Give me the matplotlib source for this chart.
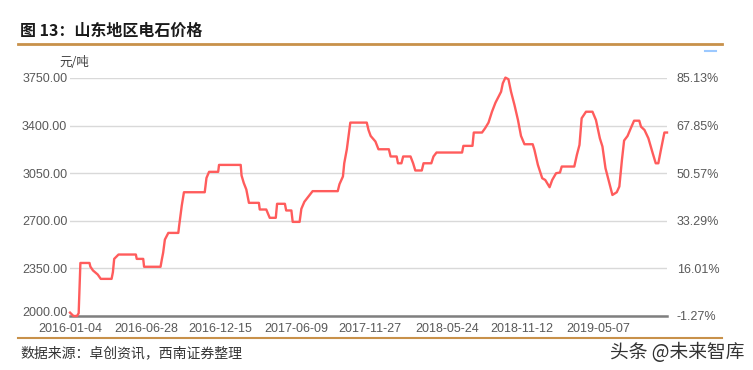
import matplotlib
matplotlib.use("Agg")
import matplotlib.pyplot as plt
import matplotlib.transforms as mtransforms
import pandas as pd

# price series (yuan/ton)
dates = [
    "2016-01-04", "2016-01-12", "2016-01-20", "2016-01-24", "2016-01-28", "2016-02-18",
    "2016-02-20", "2016-02-26", "2016-03-08", "2016-03-15", "2016-04-09", "2016-04-12",
    "2016-04-15", "2016-04-25", "2016-06-04", "2016-06-06", "2016-06-21", "2016-06-23",
    "2016-07-31", "2016-08-03", "2016-08-06", "2016-08-10", "2016-08-18", "2016-09-10",
    "2016-09-12", "2016-09-18", "2016-09-23", "2016-11-10", "2016-11-14", "2016-11-20",
    "2016-12-11", "2016-12-13", "2017-02-01", "2017-02-03", "2017-02-08", "2017-02-14",
    "2017-02-20", "2017-03-15", "2017-03-17", "2017-04-01", "2017-04-09", "2017-04-23",
    "2017-04-26", "2017-05-14", "2017-05-17", "2017-05-29", "2017-06-01", "2017-06-17",
    "2017-06-21", "2017-06-28", "2017-07-10", "2017-07-17", "2017-09-13", "2017-09-17",
    "2017-09-25", "2017-09-28", "2017-10-04", "2017-10-12", "2017-11-19", "2017-11-23",
    "2017-11-28", "2017-12-09", "2017-12-16", "2018-01-09", "2018-01-13", "2018-01-27",
    "2018-01-30", "2018-02-07", "2018-02-11", "2018-02-28", "2018-03-06", "2018-03-11",
    "2018-03-26", "2018-03-30", "2018-04-17", "2018-04-22", "2018-04-29", "2018-06-27",
    "2018-06-30", "2018-07-21", "2018-07-24", "2018-08-12", "2018-08-19", "2018-08-27",
    "2018-09-04", "2018-09-12", "2018-09-19", "2018-09-25", "2018-09-29", "2018-10-05",
    "2018-10-12", "2018-10-18", "2018-10-26", "2018-11-03", "2018-11-10", "2018-11-18",
    "2018-12-07", "2018-12-11", "2018-12-19", "2018-12-29", "2019-01-05", "2019-01-15",
    "2019-01-21", "2019-01-30", "2019-02-08", "2019-02-12", "2019-03-13", "2019-03-19",
    "2019-03-25", "2019-03-30", "2019-04-09", "2019-04-24", "2019-05-02", "2019-05-11",
    "2019-05-17", "2019-05-24", "2019-06-02", "2019-06-09", "2019-06-19", "2019-06-25",
    "2019-07-01", "2019-07-06", "2019-07-14", "2019-07-22", "2019-07-29", "2019-08-10",
    "2019-08-14", "2019-08-22", "2019-08-31", "2019-09-10", "2019-09-17", "2019-09-23",
    "2019-09-29", "2019-10-07", "2019-10-13",
]
prices = [
    2025, 2000, 2000, 2020, 2390, 2390,
    2363, 2335, 2305, 2273, 2273, 2322,
    2420, 2452, 2452, 2420, 2420, 2362,
    2362, 2416, 2465, 2562, 2611, 2611,
    2665, 2812, 2910, 2910, 3015, 3060,
    3060, 3111, 3111, 3033, 2979, 2930,
    2832, 2832, 2783, 2783, 2722, 2722,
    2825, 2825, 2776, 2776, 2692, 2692,
    2788, 2840, 2889, 2918, 2918, 2969,
    3026, 3123, 3226, 3422, 3422, 3368,
    3324, 3283, 3226, 3226, 3173, 3173,
    3123, 3123, 3173, 3173, 3123, 3070,
    3070, 3123, 3123, 3173, 3202, 3202,
    3251, 3251, 3349, 3349, 3380, 3422,
    3502, 3568, 3612, 3649, 3711, 3753,
    3741, 3649, 3551, 3441, 3324, 3263,
    3263, 3222, 3111, 3013, 3000, 2947,
    3000, 3050, 3055, 3099, 3099, 3185,
    3258, 3454, 3502, 3502, 3441, 3307,
    3246, 3087, 2977, 2890, 2910, 2952,
    3148, 3290, 3324, 3385, 3436, 3436,
    3392, 3368, 3307, 3197, 3123, 3123,
    3222, 3349, 3349,
]

left_ticks = [2000, 2350, 2700, 3050, 3400, 3750]
right_ticks = [-1.27, 16.01, 33.29, 50.57, 67.85, 85.13]
x_ticks = ["2016-01-04", "2016-06-28", "2016-12-15", "2017-06-09",
           "2017-11-27", "2018-05-24", "2018-11-12", "2019-05-07"]

title = "图 13：山东地区电石价格"
source = "数据来源：卓创资讯，西南证券整理"
watermark = "头条 @未来智库"

cjk = ["Noto Sans CJK SC", "DejaVu Sans"]
narrow = ["Liberation Sans Narrow", "Liberation Sans"]
gray = "#595959"
gold = "#C8914A"

x = pd.to_datetime(dates)

fig = plt.figure(figsize=(7.53, 3.70), dpi=100)
ax = fig.add_axes([70 / 753, 1 - 316 / 370, 597 / 753, 238 / 370])

ax.plot(x, prices, color="#FF5C5C", linewidth=1.7, clip_on=False, zorder=3)

ax.set_xlim(pd.Timestamp("2016-01-04"), pd.Timestamp("2019-10-13"))
ax.set_ylim(2000, 3750)
ax.set_yticks(left_ticks)
ax.set_yticklabels([f"{v:.2f}" for v in left_ticks], fontfamily=narrow,
                   fontsize=9, color=gray)
ax.set_xticks(pd.to_datetime(x_ticks))
ax.set_xticklabels(x_ticks, fontfamily=narrow, fontsize=9, color=gray)
ax.tick_params(axis="both", length=0)
ax.tick_params(axis="y", pad=2)
ax.tick_params(axis="x", pad=5)
ax.grid(axis="y", color="#D9D9D9", linewidth=1)
for s in ["top", "left", "right"]:
    ax.spines[s].set_visible(False)
ax.spines["bottom"].set_color("#7F7F7F")
ax.spines["bottom"].set_linewidth(1.8)

# bottom value label sits a little above the axis line
shift = mtransforms.ScaledTranslation(0, 5 / 100, fig.dpi_scale_trans)
ylabels = ax.get_yticklabels()
ylabels[0].set_transform(ylabels[0].get_transform() + shift)

ax2 = ax.twinx()
ax2.set_ylim(right_ticks[0], right_ticks[-1])
ax2.set_yticks(right_ticks)
ax2.set_yticklabels([f"{v:.2f}%" for v in right_ticks], fontfamily=narrow,
                    fontsize=9, color=gray)
ax2.tick_params(axis="y", length=0, pad=7)
for s in ax2.spines.values():
    s.set_visible(False)

# unit label
fig.text(59 / 753, 1 - 63 / 370, "元/吨", fontfamily=cjk, fontsize=9,
         color="#404040", va="center", ha="left")

# header and footer
fig.text(20 / 753, 1 - 31 / 370, title, fontfamily=cjk, fontsize=11.5,
         fontweight="bold", color="#1a1a1a", va="center", ha="left")
fig.add_artist(plt.Line2D([18 / 753, 722 / 753], [1 - 44 / 370, 1 - 44 / 370],
                          color=gold, linewidth=2))
fig.add_artist(plt.Line2D([18 / 753, 722 / 753], [1 - 338 / 370, 1 - 338 / 370],
                          color=gold, linewidth=1.5))
fig.add_artist(plt.Line2D([705 / 753, 716 / 753], [1 - 51 / 370, 1 - 51 / 370],
                          color="#9CC9FF", linewidth=1.5))
fig.text(20 / 753, 1 - 353 / 370, source, fontfamily=cjk, fontsize=10,
         color="#333333", va="center", ha="left", style="italic")
fig.text(745 / 753, 1 - 352 / 370, watermark, fontfamily=cjk, fontsize=13.5,
         color="#333333", va="center", ha="right")

fig.savefig("out.png", dpi=100)
